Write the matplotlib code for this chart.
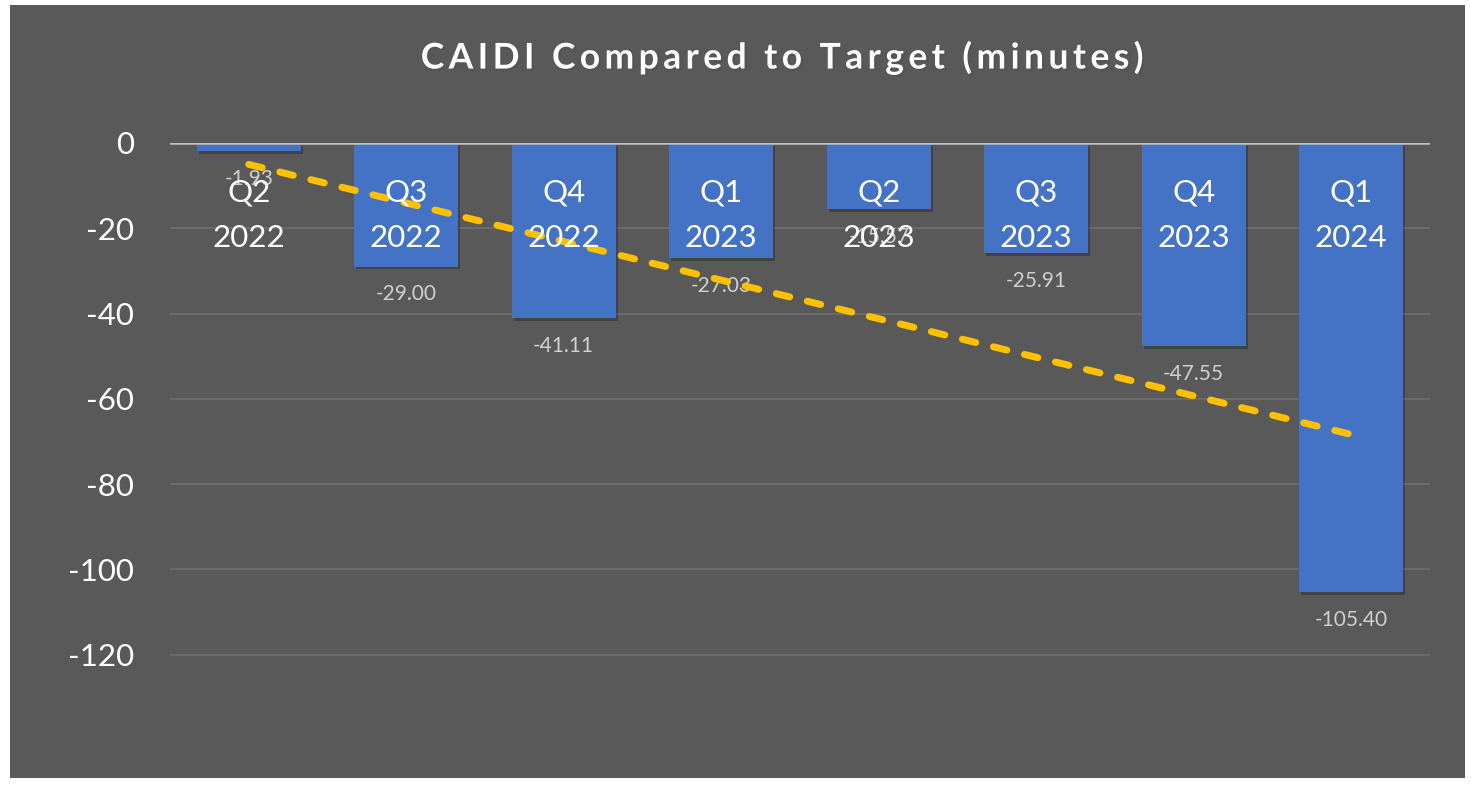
import numpy as np
import matplotlib.pyplot as plt
import matplotlib.patheffects as pe
from matplotlib.patches import Rectangle

quarters = ["Q2", "Q3", "Q4", "Q1", "Q2", "Q3", "Q4", "Q1"]
years = ["2022", "2022", "2022", "2023", "2023", "2023", "2023", "2024"]
caidi_vs_target = [-1.93, -29.00, -41.11, -27.03, -15.57, -25.91, -47.55, -105.40]
title = "CAIDI Compared to Target (minutes)"

plt.rcParams['font.family'] = ['Lato', 'DejaVu Sans']
plt.rcParams['axes.unicode_minus'] = False

BG = "#595959"
fig = plt.figure(figsize=(14.71, 7.88), dpi=100, facecolor="white")
fig.patches.append(Rectangle((10 / 1471, 1 - 778 / 788), 1455 / 1471, 773 / 788,
                             transform=fig.transFigure, facecolor=BG,
                             edgecolor="none", zorder=-10))

ax = fig.add_axes([170 / 1471, 1 - 740 / 788, 1260 / 1471, 597 / 788])
ax.set_facecolor("none")
ax.set_zorder(2)

x = np.arange(1, len(caidi_vs_target) + 1)
vals = np.array(caidi_vs_target)
ax.bar(x, vals, width=0.66, color="#4472C4", zorder=3,
       path_effects=[pe.SimplePatchShadow(offset=(1.5, -2), alpha=0.25, shadow_rgbFace="black"),
                     pe.Normal()])

# linear trendline
k, b = np.polyfit(x, vals, 1)
ax.plot(x, k * x + b, color="#FFC000", lw=5, ls=(0, (2.0, 2.6)),
        dash_capstyle="round", zorder=5)

for xi, v in zip(x, vals):
    ax.annotate(f"{v:.2f}", xy=(xi, v), xytext=(0, -20), textcoords="offset points",
                ha="center", va="center", color="#D0D0D0", fontsize=15, zorder=4)

for xi, q, yr in zip(x, quarters, years):
    ax.annotate(f"{q}\n{yr}", xy=(xi, 0), xytext=(0, -25.5), textcoords="offset points",
                ha="center", va="top", color="white", fontsize=22.5, linespacing=1.76,
                zorder=6)

ax.set_xlim(0.5, 8.5)
ax.set_ylim(-140, 0)
ax.set_yticks(range(-120, 1, 20))
ax.set_xticks([])
for yv in range(-120, 0, 20):
    ax.axhline(yv, color="#6F6F6F", lw=1.2, zorder=1)
ax.axhline(0, color="#BFBFBF", lw=1.8, zorder=4)
ax.tick_params(axis="y", length=0, labelsize=22.5, labelcolor="white", pad=26)
for s in ax.spines.values():
    s.set_visible(False)

# letter-spaced title
fig.text(781 / 1471, 1 - 58 / 788, "\u2009".join(title),
         ha="center", va="center", color="white", fontsize=25.5, fontweight="bold",
         path_effects=[pe.withSimplePatchShadow(offset=(1.5, -1.5), alpha=0.4)])

fig.savefig("out.png", dpi=100, facecolor="white")
